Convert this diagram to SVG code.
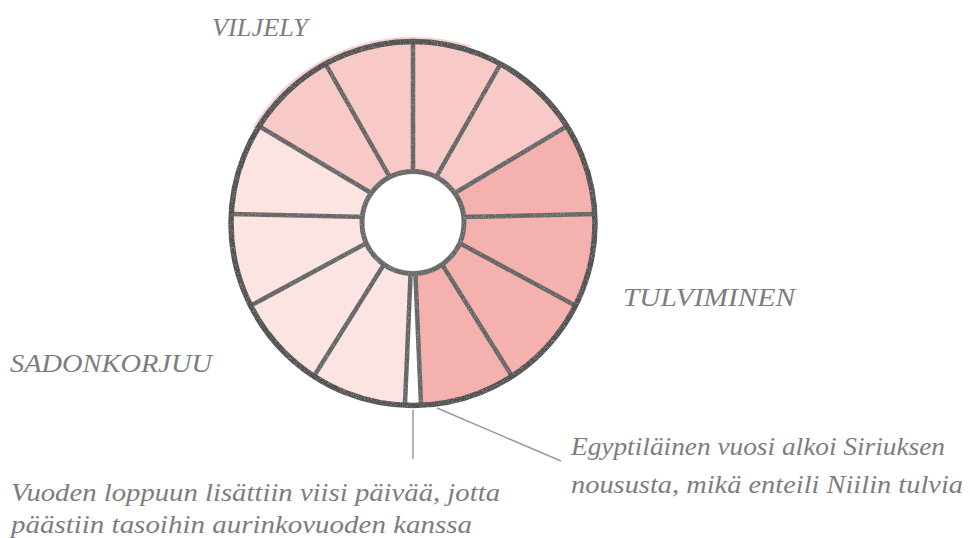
<svg xmlns="http://www.w3.org/2000/svg" width="970" height="538" viewBox="0 0 970 538">
  <defs>
    <clipPath id="annulus">
      <path clip-rule="evenodd" d="M231,223.5 A182,182 0 1,0 595,223.5 A182,182 0 1,0 231,223.5 Z M362,222.5 A51,51 0 1,1 464,222.5 A51,51 0 1,1 362,222.5 Z"/>
    </clipPath>
    <filter id="grain" x="-5%" y="-5%" width="110%" height="110%">
      <feTurbulence type="fractalNoise" baseFrequency="1.3" numOctaves="2" seed="3" result="n"/>
      <feColorMatrix in="n" type="matrix" values="0 0 0 0 0.62  0 0 0 0 0.62  0 0 0 0 0.62  0 0 0 1.4 -0.75" result="spk"/>
      <feComposite in="spk" in2="SourceGraphic" operator="in" result="spkIn"/>
      <feMerge><feMergeNode in="SourceGraphic"/><feMergeNode in="spkIn"/></feMerge>
    </filter>
  </defs>
  <style>
    .lbl { font-family: "Liberation Serif", "DejaVu Serif", serif; font-style: italic; fill: #7d7d7d; font-size: 26px; }
    .dark { fill: #f4b1ae; }
    .mid { fill: #f8cac7; }
    .light { fill: #fbe4e2; }
    .div { stroke: #666666; stroke-width: 4.5; fill: none; }
    .rim { stroke: #525252; stroke-width: 5.5; fill: none; }
    .rim-in { stroke: #686868; stroke-width: 5; fill: none; }
    .lead { stroke: #9a9a9a; stroke-width: 1.5; fill: none; }
  </style>

  <g id="wheel">
    <path id="halo" d="M254,128 A184,184 0 0,1 415,38.5 A184,184 0 0,1 470,47" fill="none" stroke="#f6c6c3" stroke-width="3" opacity="0.8"/>
    <g id="segments" clip-path="url(#annulus)">
      <path id="seg-1" class="mid" d="M413,218 L413,-42 L541.4,-8.1 Z"/>
      <path id="seg-2" class="mid" d="M413,218 L541.4,-8.1 L636.3,84.8 Z"/>
      <path id="seg-3" class="dark" d="M413,218 L636.3,84.8 L672.9,212.4 Z"/>
      <path id="seg-4" class="dark" d="M413,218 L672.9,212.4 L641.8,341.5 Z"/>
      <path id="seg-5" class="dark" d="M413,218 L641.8,341.5 L551.0,438.4 Z"/>
      <path id="seg-6" class="dark" d="M413,218 L551.0,438.4 L424.2,477.8 Z"/>
      <path id="seg-7" class="light" d="M413,218 L401.8,477.8 L275.0,438.4 Z"/>
      <path id="seg-8" class="light" d="M413,218 L275.0,438.4 L184.2,341.5 Z"/>
      <path id="seg-9" class="light" d="M413,218 L184.2,341.5 L153.1,212.4 Z"/>
      <path id="seg-10" class="light" d="M413,218 L153.1,212.4 L189.7,84.8 Z"/>
      <path id="seg-11" class="mid" d="M413,218 L189.7,84.8 L284.6,-8.1 Z"/>
      <path id="seg-12" class="mid" d="M413,218 L284.6,-8.1 L413,-42 Z"/>
    </g>
    <g id="dividers" clip-path="url(#annulus)" filter="url(#grain)">
      <path class="div" d="M413,218 L413,-42 M413,218 L541.4,-8.1 M413,218 L636.3,84.8 M413,218 L672.9,212.4 M413,218 L641.8,341.5 M413,218 L551.0,438.4 M413,218 L424.2,477.8 M413,218 L401.8,477.8 M413,218 L275.0,438.4 M413,218 L184.2,341.5 M413,218 L153.1,212.4 M413,218 L189.7,84.8 M413,218 L284.6,-8.1"/>
    </g>
    <g id="rims" filter="url(#grain)">
      <circle class="rim" cx="413" cy="223.5" r="182"/>
      <circle class="rim-in" cx="413" cy="222.5" r="51"/>
    </g>
  </g>

  <g id="connectors">
    <line class="lead" x1="413" y1="410" x2="413" y2="459"/>
    <line class="lead" x1="437" y1="408" x2="561" y2="461"/>
  </g>

  <g id="label-viljely">
    <text class="lbl" x="212" y="36" textLength="96" lengthAdjust="spacingAndGlyphs">VILJELY</text>
  </g>
  <g id="label-tulviminen">
    <text class="lbl" x="623" y="306" textLength="172" lengthAdjust="spacingAndGlyphs">TULVIMINEN</text>
  </g>
  <g id="label-sadonkorjuu">
    <text class="lbl" x="10" y="372" textLength="202" lengthAdjust="spacingAndGlyphs">SADONKORJUU</text>
  </g>
  <g id="note-sirius">
    <text class="lbl" x="571" y="455" textLength="374" lengthAdjust="spacingAndGlyphs">Egyptiläinen vuosi alkoi Siriuksen</text>
    <text class="lbl" x="571" y="493" textLength="392" lengthAdjust="spacingAndGlyphs">noususta, mikä enteili Niilin tulvia</text>
  </g>
  <g id="note-days">
    <text class="lbl" x="11" y="501" textLength="489" lengthAdjust="spacingAndGlyphs">Vuoden loppuun lisättiin viisi päivää, jotta</text>
    <text class="lbl" x="11" y="533" textLength="461" lengthAdjust="spacingAndGlyphs">päästiin tasoihin aurinkovuoden kanssa</text>
  </g>
</svg>
